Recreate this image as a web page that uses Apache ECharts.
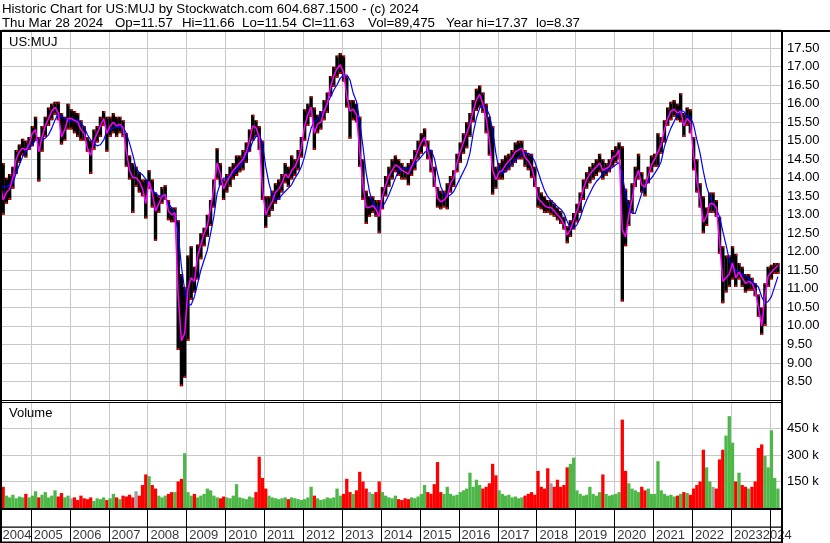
<!DOCTYPE html>
<html><head><meta charset="utf-8">
<script src="https://cdn.jsdelivr.net/npm/echarts@6/dist/echarts.min.js"></script>
<style>html,body{margin:0;padding:0;background:#fff}#c{width:830px;height:543px}</style>
</head><body><div id="c"></div><script>
// ---- data (monthly, Mar 2004 .. Mar 2024) ----
const startYear = 2004, startMonth = 3;
const priceHigh = [
15.1,14.4,14.0,14.1,14.3,14.75,14.9,15.05,15.0,15.1,
15.4,15.65,15.1,15.4,15.65,15.9,16.0,16.05,16.05,15.75,15.65,16.0,
15.85,15.8,15.75,15.55,15.4,15.1,15.0,15.3,15.4,15.65,15.8,15.65,
15.65,15.75,15.65,15.65,15.55,15.2,14.6,14.4,14.3,14.15,13.95,13.95,
14.2,13.95,13.6,13.5,13.75,13.8,13.4,13.2,13.2,12.85,11.4,11.05,
11.9,12.15,11.6,12.2,12.5,12.65,13.0,13.4,13.95,14.8,14.4,13.95,
14.1,14.3,14.4,14.6,14.6,14.75,14.95,15.3,15.7,15.55,15.4,15.0,
13.5,13.5,13.65,13.85,13.95,14.1,14.4,14.3,14.6,14.5,14.75,15.1,
15.85,16.0,16.2,15.9,15.7,15.8,16.1,16.3,16.75,17.0,17.3,17.37,
17.3,16.75,16.1,16.1,16.0,15.65,14.5,13.65,13.5,13.5,13.4,13.4,
13.75,14.05,14.3,14.5,14.6,14.5,14.4,14.3,14.4,14.5,14.75,15.0,
15.2,15.33,15.0,14.75,14.3,13.75,13.65,13.65,13.85,14.05,14.2,14.65,
14.95,15.2,15.5,15.75,16.1,16.4,16.49,16.3,16.0,15.65,15.4,14.3,
14.4,14.5,14.6,14.65,14.75,14.95,15.0,15.0,14.75,14.65,14.65,14.3,
13.75,13.6,13.5,13.4,13.4,13.3,13.2,13.1,12.95,12.7,12.85,13.05,
13.3,13.6,13.95,14.15,14.3,14.4,14.5,14.65,14.5,14.4,14.5,14.75,
14.85,14.95,14.85,13.7,13.4,13.85,14.3,14.65,14.15,13.95,14.3,14.6,
14.65,15.2,15.1,15.55,15.9,16.05,16.1,16.0,16.28,15.75,15.9,15.85,
15.1,14.5,13.85,13.5,13.2,13.6,13.6,13.4,12.95,12.15,11.9,11.9,
12.15,11.95,11.7,11.6,11.4,11.4,11.3,11.15,10.85,10.5,11.15,11.6,
11.65,11.7,11.7];
const priceLow = [
13.7,13.0,13.3,13.4,13.7,14.1,14.4,14.6,14.55,14.75,
14.85,15.0,13.9,14.7,15.1,15.4,15.55,15.7,15.55,14.9,15.0,15.3,
15.3,15.2,15.1,15.0,15.0,14.7,14.1,14.75,14.95,15.1,15.4,14.7,
15.1,15.2,15.1,15.2,15.1,14.3,13.95,13.05,13.75,13.6,13.5,12.9,
13.7,13.2,12.3,13.05,13.3,13.4,12.85,12.8,12.8,9.35,8.37,8.6,
9.6,10.7,10.9,11.25,11.8,12.15,12.4,12.7,13.2,13.95,13.8,13.4,
13.6,13.75,13.95,14.05,14.15,14.2,14.4,14.7,15.0,15.1,14.75,13.4,
12.65,12.95,13.1,13.3,13.4,13.6,13.85,13.75,13.95,14.05,14.2,14.55,
15.0,15.4,15.65,14.75,15.2,15.3,15.55,15.75,16.2,16.45,16.7,16.8,
16.6,15.9,15.05,15.55,15.5,14.3,13.4,12.75,12.95,13.05,12.95,12.5,
13.15,13.5,13.75,13.95,14.15,14.05,13.95,13.95,13.8,14.05,14.2,14.5,
14.65,14.85,14.5,14.15,13.75,13.2,13.15,13.2,13.15,13.6,13.75,14.15,
14.4,14.65,14.8,15.1,15.5,15.8,15.9,15.75,15.2,14.6,13.55,13.7,
13.95,13.95,14.15,14.2,14.3,14.4,14.5,14.5,14.3,14.2,14.0,13.75,
13.2,13.15,13.05,13.05,13.0,12.95,12.85,12.75,12.6,12.23,12.4,12.6,
12.8,13.05,13.4,13.7,13.85,13.95,14.05,14.15,13.95,14.05,14.15,14.3,
14.4,14.5,10.66,12.15,12.7,13.05,13.75,13.95,13.6,13.5,13.85,14.15,
14.3,14.3,14.65,14.95,15.4,15.55,15.65,15.55,15.5,15.1,15.4,15.2,
14.2,13.6,13.2,12.5,12.7,13.05,13.05,12.95,11.95,10.61,10.9,11.05,
11.25,11.05,11.25,11.05,10.9,10.95,10.95,10.8,10.25,9.76,10.0,11.05,
11.25,11.4,11.4];
const priceClose = [
13.9,13.4,13.6,13.7,14.0,14.5,14.7,14.8,14.75,14.9,
15.2,15.3,14.7,15.1,15.4,15.6,15.8,15.9,15.75,15.1,15.3,15.6,
15.6,15.55,15.5,15.3,15.2,14.8,14.6,15.0,15.2,15.4,15.6,15.2,
15.4,15.5,15.4,15.45,15.35,14.7,14.2,14.0,14.0,13.9,13.7,13.3,
13.9,13.6,13.1,13.3,13.5,13.55,13.1,13.0,13.05,10.8,9.6,9.8,
11.0,11.3,11.2,11.9,12.2,12.5,12.7,13.2,13.7,14.4,14.1,13.7,
13.9,14.05,14.2,14.3,14.4,14.5,14.7,15.0,15.4,15.35,15.1,13.7,
13.0,13.2,13.35,13.6,13.7,13.85,14.1,14.0,14.2,14.3,14.5,14.8,
15.4,15.7,15.9,15.2,15.45,15.5,15.8,16.0,16.45,16.75,16.95,17.05,
16.85,16.2,15.8,15.85,15.7,14.7,13.8,13.2,13.2,13.25,13.15,12.95,
13.5,13.8,14.05,14.2,14.35,14.3,14.2,14.15,14.1,14.3,14.5,14.75,
14.95,15.1,14.7,14.4,14.0,13.45,13.35,13.4,13.5,13.85,14.0,14.4,
14.7,14.95,15.2,15.45,15.8,16.1,16.25,16.0,15.6,15.0,14.2,13.95,
14.15,14.2,14.35,14.45,14.55,14.7,14.75,14.8,14.55,14.45,14.3,13.95,
13.45,13.35,13.25,13.2,13.2,13.1,13.0,12.9,12.75,12.45,12.6,12.85,
13.1,13.35,13.7,13.95,14.1,14.2,14.3,14.4,14.2,14.25,14.3,14.55,
14.6,14.75,12.6,12.4,13.0,13.4,13.95,14.2,13.8,13.75,14.05,14.35,
14.5,14.7,14.9,15.3,15.6,15.8,15.85,15.75,15.8,15.4,15.6,15.5,
14.6,13.9,13.45,12.8,12.95,13.3,13.3,13.2,12.3,11.2,11.3,11.4,
11.7,11.3,11.45,11.3,11.15,11.2,11.15,10.95,10.5,10.0,10.8,11.35,
11.45,11.55,11.63];
const slowAverage = [
13.8,13.76,13.76,13.8,13.85,14.12,14.35,14.57,14.71,14.8,
14.89,15.02,15.02,15.02,15.07,15.16,15.34,15.56,15.73,15.65,15.61,15.56,
15.52,15.55,15.56,15.47,15.37,15.16,15.02,14.93,14.86,14.89,15.02,15.25,
15.31,15.34,15.36,15.37,15.36,15.2,14.93,14.62,14.26,14.14,14.08,13.96,
13.81,13.67,13.58,13.51,13.51,13.49,13.31,13.18,13.04,12.5,11.6,10.97,
10.57,10.57,10.79,11.15,11.51,11.78,12.05,12.5,12.95,13.58,13.85,13.99,
13.99,14.03,14.12,14.21,14.3,14.44,14.62,14.75,14.98,15.11,15.16,14.93,
14.3,13.85,13.54,13.4,13.42,13.54,13.63,13.72,13.81,13.99,14.12,14.3,
14.57,14.98,15.34,15.52,15.58,15.7,15.83,16.01,16.19,16.37,16.51,16.69,
16.76,16.78,16.64,16.28,16.06,15.52,14.84,14.12,13.63,13.31,13.2,13.18,
13.22,13.36,13.54,13.76,13.99,14.2,14.26,14.26,14.25,14.3,14.38,14.47,
14.57,14.68,14.75,14.75,14.53,14.12,13.76,13.57,13.49,13.54,13.63,13.81,
13.99,14.17,14.35,14.66,15.2,15.61,15.88,15.97,15.88,15.7,15.29,14.66,
14.21,14.11,14.17,14.3,14.39,14.48,14.57,14.64,14.66,14.66,14.59,14.44,
14.17,13.9,13.66,13.49,13.39,13.31,13.22,13.15,13.04,12.82,12.64,12.64,
12.73,12.91,13.18,13.4,13.58,13.76,13.9,13.99,14.12,14.17,14.23,14.28,
14.35,14.41,14.1,13.54,13.22,13.04,13.04,13.31,13.58,13.76,13.9,13.99,
14.12,14.26,14.44,14.84,15.11,15.34,15.52,15.7,15.82,15.79,15.65,15.63,
15.43,15.02,14.66,14.17,13.76,13.49,13.27,13.18,12.95,12.55,12.19,11.78,
11.56,11.51,11.44,11.4,11.35,11.29,11.2,11.13,11.05,10.79,10.61,10.66,
10.79,11.06,11.33];
const volumeK = [
130,120,70,60,75,55,65,60,80,60,
70,95,60,75,90,60,70,100,65,85,60,70,
55,60,45,70,55,50,60,40,55,50,60,45,
55,80,60,50,70,65,75,60,95,70,130,190,
180,130,110,70,60,70,80,90,90,150,165,310,
90,70,80,60,70,80,110,100,70,60,55,65,
60,55,70,135,60,55,50,65,60,90,290,170,
110,70,60,55,50,55,60,50,60,55,50,45,
50,60,120,70,55,45,50,60,55,60,110,70,
80,165,90,80,100,205,150,110,90,80,90,150,
90,70,60,55,70,50,45,55,50,60,55,65,
80,130,90,80,135,260,90,80,120,80,70,75,
90,100,110,200,120,160,130,110,120,140,250,185,
100,80,70,75,60,65,55,60,70,80,90,75,
210,120,110,225,140,120,160,120,130,230,250,285,
100,80,70,75,120,80,70,90,190,80,70,75,
80,90,500,210,140,110,100,90,120,100,110,80,
80,265,100,80,70,75,65,70,80,90,85,75,
110,130,150,330,230,150,120,110,275,330,410,520,
370,150,200,130,120,110,120,150,340,360,295,230,
440,170,110];
const yearLabels = [2004,2005,2006,2007,2008,2009,2010,2011,2012,2013,2014,2015,2016,2017,2018,2019,2020,2021,2022,2023,2024];
const headerLine1 = 'Historic Chart for US:MUJ by Stockwatch.com 604.687.1500 - (c) 2024';
const headerParts = ['Thu Mar 28 2024','Op=11.57','Hi=11.66','Lo=11.54','Cl=11.63','Vol=89,475','Year hi=17.37','lo=8.37'];

// ---- layout ----
const X0 = 2004.262, X1 = 2024.288;
const FONT = '"Liberation Sans", Arial, sans-serif';
const HFONT = '13.3px ' + FONT;
const headerX = [2, 115, 182, 242, 302, 368, 446, 536];
const t = i => startYear + (startMonth - 1 + i + 0.5) / 12;

const barData = priceHigh.map((h, i) => [t(i), h, priceLow[i]]);
const closeData = priceClose.map((c, i) => [t(i), c]);
const avgData = slowAverage.map((c, i) => [t(i), c]);
const volData = volumeK.map((v, i) => {
  const prev = i > 0 ? priceClose[i - 1] : priceClose[0];
  const c = priceClose[i];
  const col = c > prev ? '#4db848' : (c < prev ? '#ff0000' : '#a0a0a0');
  return { value: [t(i), v * 1000], itemStyle: { color: col } };
});
const gridYears = yearLabels.filter(y => y > X0);

function vlines(color, width) {
  return function (params, api) {
    const cs = params.coordSys;
    const x = Math.round(api.coord([api.value(0), api.value(1)])[0]) + 0.5;
    return { type: 'line', shape: { x1: x, y1: cs.y, x2: x, y2: cs.y + cs.height },
      style: { stroke: color, lineWidth: width } };
  };
}

const chart = echarts.init(document.getElementById('c'), null, { renderer: 'canvas' });
const gridBase = { containLabel: false, outerBoundsMode: 'none' };
const option = {
  animation: false,
  backgroundColor: '#fff',
  textStyle: { fontFamily: FONT },
  grid: [
    Object.assign({ left: 2, top: 29.6, width: 779, height: 370.4 }, gridBase),
    Object.assign({ left: 2, top: 402, width: 779, height: 106 }, gridBase),
    Object.assign({ left: 2, top: 510, width: 779, height: 32 }, gridBase)
  ],
  xAxis: [0, 1, 2].map(g => ({ type: 'value', gridIndex: g, min: X0, max: X1, show: false, splitLine: { show: false } })),
  yAxis: [
    { type: 'value', gridIndex: 0, position: 'right', min: 8, max: 18, interval: 0.5,
      axisLine: { show: false }, axisTick: { show: false },
      splitLine: { lineStyle: { color: '#c8c8c8', width: 1 } },
      axisLabel: { showMinLabel: false, showMaxLabel: false, margin: 6, color: '#000', fontSize: 13, fontFamily: FONT,
        formatter: v => v.toFixed(2) } },
    { type: 'value', gridIndex: 1, position: 'right', min: 0, max: 600000, interval: 150000,
      axisLine: { show: false }, axisTick: { show: false },
      splitLine: { lineStyle: { color: '#c8c8c8', width: 1 } },
      axisLabel: { showMinLabel: false, showMaxLabel: false, margin: 6, color: '#000', fontSize: 13, fontFamily: FONT,
        formatter: v => (v / 1000) + ' k' } },
    { type: 'value', gridIndex: 2, min: 0, max: 1, show: false, splitLine: { show: false } }
  ],
  series: [
    { type: 'custom', name: 'pgrid', xAxisIndex: 0, yAxisIndex: 0, z: 1, silent: true, clip: true,
      data: gridYears.map(y => [y, 8]), encode: { x: 0, y: 1 }, renderItem: vlines('#c8c8c8', 1) },
    { type: 'custom', name: 'vgrid', xAxisIndex: 1, yAxisIndex: 1, z: 1, silent: true, clip: true,
      data: gridYears.map(y => [y, 0]), encode: { x: 0, y: 1 }, renderItem: vlines('#c8c8c8', 1) },
    { type: 'custom', name: 'ticks', xAxisIndex: 2, yAxisIndex: 2, z: 5, silent: true, clip: true,
      data: gridYears.map(y => [y, 0]), encode: { x: 0, y: 1 }, renderItem: vlines('#000', 1) },
    { type: 'custom', name: 'bars', xAxisIndex: 0, yAxisIndex: 0, z: 2, clip: true, silent: true,
      data: barData, encode: { x: 0, y: [1, 2] },
      renderItem: function (params, api) {
        const x = api.value(0);
        const a = api.coord([x, api.value(1)]), b = api.coord([x, api.value(2)]);
        const w = 3.4;
        return { type: 'group', children: [
          { type: 'rect', shape: { x: a[0] - w / 2, y: a[1], width: w, height: Math.max(1, b[1] - a[1]) }, style: { fill: '#000' } },
          { type: 'rect', shape: { x: b[0] - 1, y: b[1] - 2, width: 2, height: 2 }, style: { fill: '#ff0000' } },
          { type: 'rect', shape: { x: a[0], y: a[1], width: 1.5, height: 2 }, style: { fill: '#ff0000' } }
        ] };
      } },
    { type: 'line', name: 'avg', xAxisIndex: 0, yAxisIndex: 0, z: 3, data: avgData, showSymbol: false, silent: true,
      lineStyle: { color: '#0000ff', width: 1.2 } },
    { type: 'line', name: 'close', xAxisIndex: 0, yAxisIndex: 0, z: 4, data: closeData, showSymbol: false, silent: true,
      lineStyle: { color: '#ff00ff', width: 1.5 } },
    { type: 'bar', name: 'vol', xAxisIndex: 1, yAxisIndex: 1, z: 2, barWidth: 3.3, data: volData, silent: true },
    { type: 'scatter', name: 'years', xAxisIndex: 2, yAxisIndex: 2, z: 6, symbolSize: 0, silent: true,
      data: yearLabels.map((y, i) => ({ value: [Math.max(y, X0), 0.22, String(y)],
        label: { distance: y < X0 ? 0.5 : 3, offset: i === yearLabels.length - 1 ? [-10, 0] : [0, 0] } })),
      label: { show: true, position: 'right', color: '#000', fontSize: 13, fontFamily: FONT, formatter: p => p.value[2] } }
  ],
  graphic: { elements: [
    { type: 'text', x: 2, y: 9, z: 100, style: { text: headerLine1, font: HFONT, fill: '#000', textVerticalAlign: 'middle' } },
    ...headerParts.map((s, i) => ({ type: 'text', x: headerX[i], y: 23, z: 100,
      style: { text: s, font: HFONT, fill: '#000', textVerticalAlign: 'middle' } })),
    { type: 'rect', z: 100, shape: { x: 0, y: 30, width: 830, height: 2 }, style: { fill: '#000' } },
    { type: 'rect', z: 100, shape: { x: 0, y: 30, width: 2, height: 513 }, style: { fill: '#000' } },
    { type: 'rect', z: 100, shape: { x: 781, y: 30, width: 2, height: 513 }, style: { fill: '#000' } },
    { type: 'rect', z: 100, shape: { x: 0, y: 400, width: 783, height: 1 }, style: { fill: '#000' } },
    { type: 'rect', z: 100, shape: { x: 0, y: 402, width: 783, height: 1 }, style: { fill: '#000' } },
    { type: 'rect', z: 100, shape: { x: 0, y: 508, width: 783, height: 2 }, style: { fill: '#000' } },
    { type: 'rect', z: 100, shape: { x: 0, y: 526.5, width: 783, height: 1.2 }, style: { fill: '#000' } },
    { type: 'rect', z: 100, shape: { x: 0, y: 541.5, width: 783, height: 1.5 }, style: { fill: '#000' } },
    { type: 'text', x: 9, y: 42, z: 100, style: { text: 'US:MUJ', font: '13px ' + FONT, fill: '#000', textVerticalAlign: 'middle' } },
    { type: 'text', x: 9, y: 413, z: 100, style: { text: 'Volume', font: '13px ' + FONT, fill: '#000', textVerticalAlign: 'middle' } }
  ] }
};
chart.setOption(option);
</script></body></html>
